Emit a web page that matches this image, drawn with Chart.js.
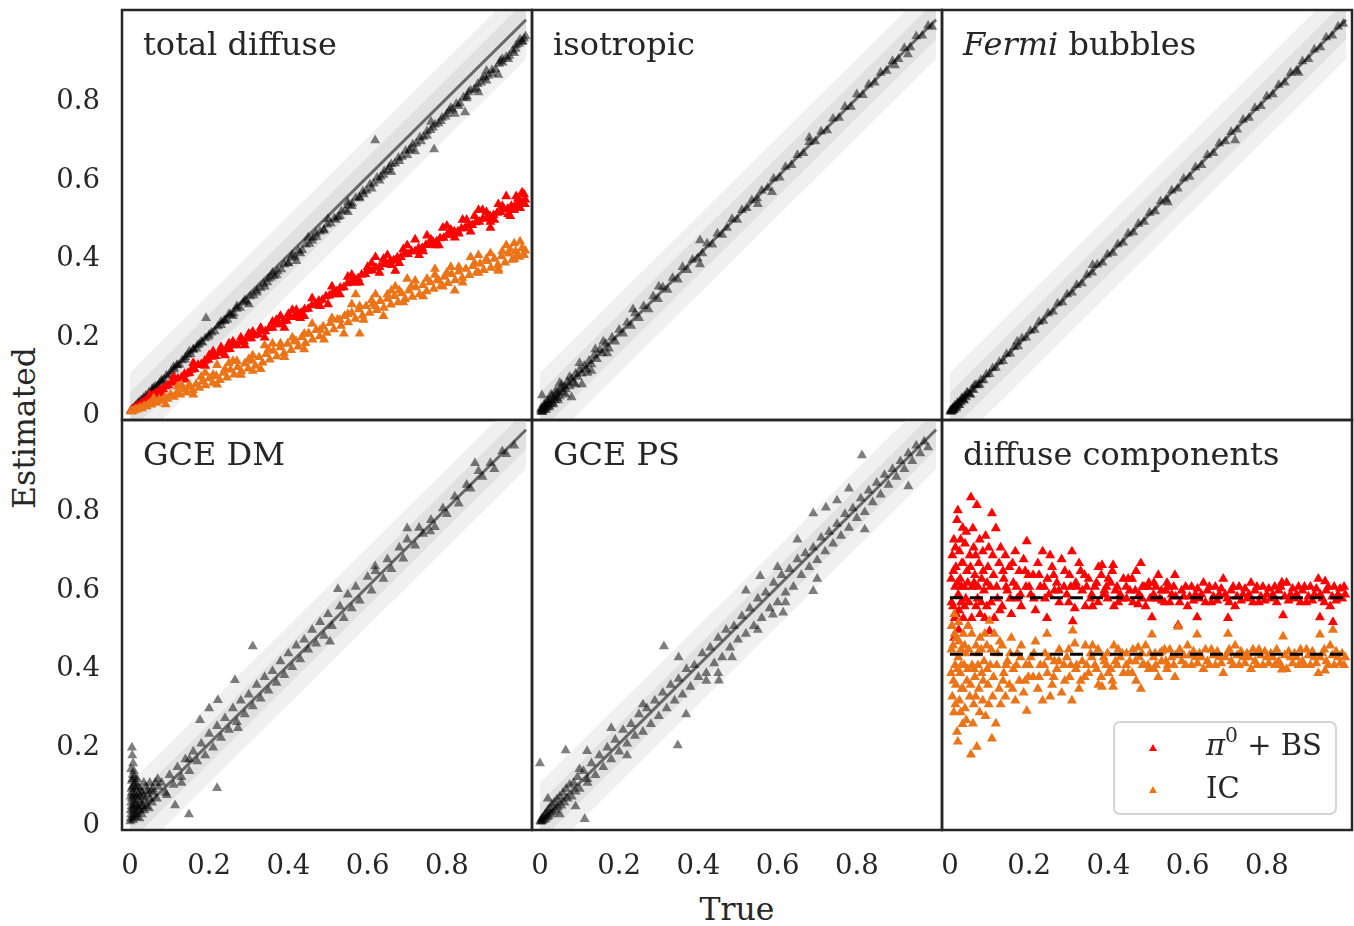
<!DOCTYPE html>
<html>
<head>
<meta charset="utf-8">
<script src="https://cdn.jsdelivr.net/npm/chart.js@4.4.0/dist/chart.umd.min.js"></script>
<style>
  body { margin: 0; background: #fff; width: 1354px; height: 926px; position: relative; overflow: hidden;
         font-family: "DejaVu Serif", serif; color: #262626; }
  canvas { position: absolute; }
  .plabel { position: absolute; font-size: 32px; line-height: 1; white-space: nowrap; }
  .axtitle { position: absolute; font-size: 31.5px; line-height: 1; white-space: nowrap; transform: translate(-50%, -50%); }
  #legend { position: absolute; left: 1113px; top: 721px; width: 220px; height: 90px; border: 2px solid #d4d4d4;
            border-radius: 7px; background: rgba(255,255,255,0.85); }
  #legend .tri { position: absolute; width: 0; height: 0; border-left: 4px solid transparent; border-right: 4px solid transparent; }
  #legend .txt { position: absolute; font-size: 29px; line-height: 1; white-space: nowrap; }
  sup { font-size: 0.7em; line-height: 0; position: relative; top: -0.1em; }
</style>
</head>
<body>

<div class="axtitle" style="left:25px;top:428px;transform:translate(-50%,-50%) rotate(-90deg)">Estimated</div>
<div class="axtitle" style="left:737px;top:910px">True</div>

<script>
// ---- axes ----
const tickVals = [0, 0.2, 0.4, 0.6, 0.8];
const xRange = [-0.02, 1.015];
const yRange = [-0.02, 1.025];
const bandOuter = 0.1;
const bandInner = 0.05;
const meanPi0 = 0.572;
const meanIC = 0.428;

const panelLabels = ["total diffuse", "isotropic", "<i>Fermi</i> bubbles", "GCE DM", "GCE PS", "diffuse components"];

// ---- total diffuse: [true, estimated] ----
const totalAll = [[0.002,0.003],[0.004,0.002],[0.005,0.006],[0.007,0.005],[0.008,0.01],[0.01,0.008],[0.012,0.013],[0.013,0.01],[0.015,0.016],[0.017,0.014],[0.019,0.021],[0.021,0.018],[0.023,0.025],[0.026,0.023],[0.028,0.03],[0.031,0.028],[0.034,0.036],[0.037,0.033],[0.04,0.042],[0.044,0.04],[0.048,0.05],[0.052,0.048],[0.056,0.059],[0.06,0.056],[0.06,0.062],[0.065,0.066],[0.07,0.067],[0.075,0.074],[0.08,0.081],[0.08,0.078],[0.086,0.083],[0.092,0.093],[0.098,0.095],[0.105,0.104],[0.11,0.115],[0.112,0.109],[0.118,0.119],[0.12,0.12],[0.125,0.121],[0.132,0.132],[0.139,0.134],[0.14,0.14],[0.146,0.146],[0.15,0.155],[0.153,0.148],[0.16,0.159],[0.16,0.16],[0.168,0.162],[0.17,0.17],[0.175,0.173],[0.18,0.18],[0.183,0.177],[0.19,0.188],[0.192,0.24],[0.198,0.192],[0.2,0.197],[0.206,0.203],[0.214,0.206],[0.222,0.219],[0.23,0.222],[0.23,0.23],[0.238,0.234],[0.24,0.232],[0.246,0.236],[0.25,0.25],[0.254,0.248],[0.26,0.245],[0.262,0.252],[0.27,0.263],[0.27,0.27],[0.278,0.266],[0.287,0.279],[0.29,0.285],[0.295,0.282],[0.3,0.275],[0.304,0.295],[0.312,0.298],[0.32,0.305],[0.321,0.31],[0.33,0.316],[0.338,0.327],[0.34,0.32],[0.347,0.331],[0.35,0.34],[0.356,0.343],[0.36,0.355],[0.364,0.347],[0.37,0.35],[0.373,0.359],[0.382,0.364],[0.39,0.376],[0.399,0.379],[0.4,0.38],[0.408,0.393],[0.41,0.4],[0.417,0.396],[0.42,0.385],[0.426,0.41],[0.43,0.405],[0.435,0.413],[0.444,0.427],[0.45,0.445],[0.453,0.429],[0.46,0.437],[0.462,0.444],[0.47,0.455],[0.471,0.447],[0.48,0.46],[0.489,0.463],[0.49,0.465],[0.498,0.478],[0.5,0.492],[0.507,0.481],[0.516,0.494],[0.52,0.49],[0.525,0.497],[0.53,0.5],[0.534,0.512],[0.543,0.515],[0.55,0.51],[0.55,0.535],[0.552,0.528],[0.56,0.525],[0.561,0.532],[0.57,0.546],[0.579,0.548],[0.58,0.545],[0.588,0.562],[0.59,0.555],[0.597,0.565],[0.606,0.58],[0.61,0.57],[0.615,0.583],[0.619,0.693],[0.624,0.597],[0.63,0.59],[0.633,0.6],[0.64,0.605],[0.642,0.614],[0.651,0.617],[0.655,0.625],[0.66,0.632],[0.66,0.612],[0.669,0.634],[0.678,0.648],[0.68,0.64],[0.687,0.651],[0.696,0.666],[0.7,0.655],[0.705,0.668],[0.71,0.672],[0.714,0.682],[0.72,0.665],[0.723,0.685],[0.732,0.7],[0.735,0.69],[0.741,0.702],[0.75,0.716],[0.75,0.705],[0.759,0.719],[0.76,0.74],[0.765,0.725],[0.768,0.67],[0.77,0.733],[0.779,0.736],[0.785,0.742],[0.788,0.75],[0.797,0.753],[0.8,0.76],[0.806,0.768],[0.81,0.775],[0.815,0.771],[0.82,0.76],[0.824,0.785],[0.83,0.78],[0.833,0.787],[0.842,0.802],[0.846,0.764],[0.85,0.8],[0.851,0.805],[0.855,0.815],[0.86,0.82],[0.869,0.822],[0.875,0.825],[0.878,0.836],[0.88,0.815],[0.887,0.84],[0.89,0.85],[0.896,0.854],[0.9,0.87],[0.9,0.845],[0.905,0.857],[0.914,0.871],[0.915,0.862],[0.923,0.874],[0.93,0.86],[0.932,0.888],[0.935,0.895],[0.94,0.9],[0.941,0.891],[0.95,0.905],[0.955,0.9],[0.958,0.908],[0.966,0.921],[0.97,0.915],[0.974,0.926],[0.975,0.935],[0.982,0.938],[0.985,0.95],[0.989,0.943],[0.992,0.945],[0.995,0.952],[0.999,0.958]];

const totalPi0 = [[0.003,0.004],[0.006,0.006],[0.01,0.008],[0.013,0.011],[0.017,0.013],[0.02,0.016],[0.025,0.019],[0.03,0.024],[0.035,0.026],[0.04,0.031],[0.046,0.033],[0.05,0.045],[0.052,0.04],[0.058,0.042],[0.064,0.048],[0.07,0.05],[0.077,0.057],[0.08,0.045],[0.084,0.058],[0.09,0.066],[0.097,0.068],[0.105,0.075],[0.11,0.09],[0.113,0.078],[0.121,0.085],[0.13,0.088],[0.138,0.097],[0.14,0.083],[0.146,0.099],[0.15,0.1],[0.155,0.108],[0.16,0.125],[0.163,0.11],[0.172,0.12],[0.18,0.122],[0.189,0.131],[0.19,0.118],[0.198,0.133],[0.2,0.145],[0.207,0.141],[0.21,0.155],[0.216,0.143],[0.225,0.151],[0.23,0.165],[0.234,0.152],[0.24,0.145],[0.243,0.16],[0.25,0.175],[0.252,0.161],[0.26,0.18],[0.261,0.17],[0.27,0.17],[0.279,0.178],[0.28,0.19],[0.288,0.18],[0.29,0.17],[0.297,0.188],[0.3,0.2],[0.306,0.188],[0.31,0.205],[0.315,0.196],[0.324,0.198],[0.33,0.215],[0.333,0.206],[0.34,0.19],[0.342,0.206],[0.351,0.214],[0.36,0.215],[0.36,0.23],[0.369,0.224],[0.37,0.235],[0.378,0.224],[0.38,0.245],[0.387,0.232],[0.39,0.215],[0.396,0.233],[0.4,0.25],[0.405,0.242],[0.41,0.26],[0.414,0.242],[0.42,0.26],[0.423,0.25],[0.43,0.24],[0.432,0.253],[0.44,0.245],[0.441,0.262],[0.45,0.263],[0.459,0.272],[0.46,0.29],[0.468,0.275],[0.47,0.275],[0.477,0.284],[0.48,0.27],[0.486,0.286],[0.495,0.295],[0.5,0.275],[0.504,0.297],[0.51,0.32],[0.513,0.306],[0.52,0.3],[0.522,0.308],[0.53,0.3],[0.531,0.317],[0.54,0.318],[0.549,0.328],[0.55,0.345],[0.558,0.33],[0.56,0.35],[0.567,0.339],[0.57,0.33],[0.576,0.341],[0.58,0.33],[0.585,0.35],[0.594,0.352],[0.6,0.37],[0.603,0.36],[0.61,0.38],[0.612,0.361],[0.62,0.395],[0.621,0.368],[0.63,0.37],[0.63,0.355],[0.639,0.377],[0.64,0.39],[0.648,0.378],[0.65,0.4],[0.657,0.385],[0.66,0.375],[0.666,0.387],[0.67,0.36],[0.675,0.394],[0.68,0.38],[0.684,0.395],[0.69,0.415],[0.693,0.402],[0.7,0.425],[0.702,0.403],[0.711,0.41],[0.72,0.41],[0.72,0.44],[0.729,0.418],[0.73,0.4],[0.738,0.418],[0.74,0.41],[0.747,0.426],[0.75,0.45],[0.756,0.427],[0.76,0.44],[0.765,0.434],[0.77,0.425],[0.774,0.435],[0.78,0.425],[0.783,0.443],[0.79,0.47],[0.792,0.444],[0.8,0.475],[0.801,0.452],[0.81,0.452],[0.81,0.465],[0.819,0.46],[0.82,0.445],[0.828,0.46],[0.83,0.455],[0.837,0.468],[0.84,0.49],[0.846,0.469],[0.85,0.49],[0.855,0.476],[0.86,0.46],[0.864,0.477],[0.87,0.5],[0.873,0.484],[0.88,0.515],[0.882,0.485],[0.89,0.515],[0.891,0.493],[0.9,0.494],[0.9,0.51],[0.909,0.5],[0.91,0.47],[0.91,0.485],[0.918,0.502],[0.92,0.49],[0.927,0.508],[0.93,0.53],[0.936,0.51],[0.94,0.525],[0.945,0.516],[0.95,0.55],[0.954,0.518],[0.955,0.505],[0.96,0.5],[0.963,0.525],[0.97,0.515],[0.972,0.526],[0.975,0.55],[0.98,0.545],[0.981,0.533],[0.985,0.52],[0.99,0.535],[0.99,0.56],[0.995,0.555],[0.997,0.53],[0.998,0.542]];

const totalIC = [[0.003,0.002],[0.007,0.004],[0.011,0.004],[0.015,0.007],[0.02,0.007],[0.025,0.011],[0.03,0.01],[0.036,0.016],[0.042,0.015],[0.048,0.021],[0.054,0.019],[0.06,0.026],[0.06,0.035],[0.067,0.024],[0.074,0.032],[0.081,0.029],[0.088,0.038],[0.09,0.02],[0.095,0.034],[0.103,0.045],[0.111,0.039],[0.119,0.05],[0.12,0.065],[0.127,0.045],[0.13,0.07],[0.135,0.058],[0.143,0.05],[0.15,0.07],[0.151,0.064],[0.159,0.056],[0.16,0.045],[0.167,0.071],[0.175,0.062],[0.18,0.09],[0.183,0.078],[0.19,0.1],[0.191,0.068],[0.2,0.086],[0.209,0.075],[0.21,0.095],[0.218,0.092],[0.22,0.12],[0.22,0.07],[0.227,0.082],[0.236,0.1],[0.24,0.11],[0.245,0.088],[0.25,0.125],[0.254,0.108],[0.26,0.13],[0.263,0.096],[0.27,0.13],[0.272,0.115],[0.28,0.095],[0.281,0.104],[0.29,0.124],[0.299,0.111],[0.3,0.135],[0.308,0.131],[0.31,0.105],[0.31,0.145],[0.317,0.118],[0.326,0.14],[0.33,0.11],[0.335,0.126],[0.34,0.17],[0.344,0.148],[0.35,0.16],[0.353,0.134],[0.36,0.175],[0.362,0.156],[0.371,0.142],[0.38,0.165],[0.38,0.175],[0.389,0.15],[0.39,0.14],[0.398,0.174],[0.407,0.158],[0.41,0.19],[0.416,0.182],[0.42,0.18],[0.425,0.167],[0.434,0.191],[0.44,0.2],[0.44,0.16],[0.443,0.176],[0.45,0.2],[0.452,0.2],[0.46,0.225],[0.461,0.185],[0.47,0.209],[0.479,0.193],[0.48,0.21],[0.488,0.218],[0.49,0.185],[0.497,0.202],[0.506,0.227],[0.51,0.24],[0.515,0.211],[0.524,0.236],[0.53,0.235],[0.533,0.22],[0.54,0.2],[0.542,0.245],[0.55,0.25],[0.551,0.229],[0.56,0.253],[0.56,0.275],[0.569,0.238],[0.57,0.3],[0.578,0.262],[0.58,0.27],[0.58,0.2],[0.587,0.246],[0.59,0.235],[0.596,0.27],[0.605,0.253],[0.61,0.285],[0.614,0.276],[0.62,0.3],[0.62,0.27],[0.623,0.26],[0.632,0.283],[0.64,0.245],[0.641,0.266],[0.65,0.289],[0.65,0.3],[0.659,0.274],[0.66,0.31],[0.668,0.296],[0.67,0.32],[0.677,0.28],[0.68,0.31],[0.686,0.303],[0.69,0.28],[0.695,0.288],[0.7,0.34],[0.704,0.31],[0.71,0.32],[0.713,0.294],[0.72,0.335],[0.722,0.318],[0.731,0.3],[0.74,0.324],[0.74,0.295],[0.749,0.308],[0.75,0.34],[0.758,0.331],[0.767,0.314],[0.77,0.35],[0.77,0.365],[0.776,0.338],[0.78,0.335],[0.785,0.322],[0.79,0.32],[0.794,0.345],[0.8,0.355],[0.803,0.329],[0.81,0.37],[0.812,0.352],[0.82,0.31],[0.821,0.336],[0.83,0.358],[0.83,0.37],[0.839,0.342],[0.84,0.33],[0.848,0.365],[0.857,0.349],[0.86,0.395],[0.866,0.372],[0.87,0.38],[0.875,0.356],[0.88,0.4],[0.88,0.355],[0.884,0.378],[0.893,0.362],[0.9,0.39],[0.902,0.385],[0.91,0.405],[0.911,0.368],[0.92,0.391],[0.929,0.375],[0.93,0.36],[0.93,0.365],[0.938,0.397],[0.94,0.41],[0.947,0.381],[0.95,0.425],[0.956,0.404],[0.96,0.415],[0.965,0.388],[0.97,0.43],[0.97,0.39],[0.974,0.41],[0.98,0.4],[0.983,0.396],[0.985,0.435],[0.99,0.418],[0.995,0.4],[0.998,0.412]];

// ---- isotropic ----
const isoPts = [[0.002,0.004],[0.003,0.01],[0.004,0.001],[0.005,0.008],[0.006,0.0],[0.007,0.003],[0.009,0.012],[0.01,0.006],[0.011,0.02],[0.012,0.015],[0.014,0.009],[0.015,0.005],[0.016,0.02],[0.018,0.012],[0.019,0.03],[0.02,0.025],[0.022,0.016],[0.024,0.012],[0.025,0.03],[0.027,0.02],[0.028,0.045],[0.03,0.04],[0.032,0.024],[0.034,0.02],[0.035,0.037],[0.038,0.03],[0.04,0.055],[0.041,0.047],[0.044,0.036],[0.046,0.03],[0.047,0.052],[0.05,0.04],[0.05,0.075],[0.054,0.06],[0.055,0.07],[0.058,0.05],[0.062,0.066],[0.065,0.045],[0.066,0.058],[0.07,0.077],[0.075,0.066],[0.075,0.09],[0.08,0.085],[0.08,0.038],[0.085,0.075],[0.09,0.098],[0.09,0.07],[0.095,0.09],[0.1,0.108],[0.1,0.125],[0.106,0.098],[0.106,0.071],[0.112,0.118],[0.118,0.11],[0.12,0.1],[0.124,0.131],[0.13,0.122],[0.13,0.105],[0.137,0.145],[0.14,0.16],[0.144,0.135],[0.151,0.158],[0.158,0.15],[0.16,0.18],[0.166,0.175],[0.17,0.15],[0.174,0.162],[0.182,0.19],[0.19,0.18],[0.2,0.21],[0.21,0.2],[0.22,0.228],[0.23,0.22],[0.235,0.262],[0.24,0.252],[0.25,0.24],[0.262,0.27],[0.274,0.262],[0.286,0.295],[0.298,0.288],[0.3,0.32],[0.31,0.318],[0.322,0.312],[0.335,0.342],[0.348,0.338],[0.36,0.37],[0.372,0.362],[0.385,0.388],[0.398,0.392],[0.404,0.438],[0.404,0.377],[0.41,0.405],[0.422,0.43],[0.435,0.427],[0.448,0.455],[0.46,0.452],[0.472,0.47],[0.485,0.492],[0.498,0.49],[0.51,0.515],[0.522,0.52],[0.535,0.54],[0.548,0.545],[0.55,0.53],[0.56,0.565],[0.575,0.572],[0.586,0.561],[0.59,0.595],[0.605,0.598],[0.62,0.625],[0.635,0.63],[0.65,0.655],[0.665,0.66],[0.68,0.688],[0.68,0.7],[0.695,0.69],[0.71,0.715],[0.725,0.718],[0.74,0.748],[0.755,0.75],[0.77,0.778],[0.785,0.778],[0.8,0.81],[0.815,0.808],[0.83,0.835],[0.845,0.84],[0.86,0.865],[0.875,0.87],[0.89,0.895],[0.896,0.884],[0.905,0.9],[0.92,0.928],[0.929,0.912],[0.935,0.93],[0.95,0.958],[0.965,0.96],[0.98,0.985],[0.99,0.982],[0.005,0.043]];

// ---- Fermi bubbles ----
const fermiPts = [[0.001,0.002],[0.002,0.005],[0.003,0.001],[0.004,0.005],[0.005,0.002],[0.006,0.004],[0.007,0.01],[0.008,0.009],[0.009,0.006],[0.01,0.005],[0.011,0.012],[0.012,0.016],[0.013,0.01],[0.015,0.016],[0.016,0.01],[0.017,0.014],[0.019,0.024],[0.02,0.022],[0.022,0.018],[0.024,0.018],[0.025,0.027],[0.028,0.025],[0.03,0.036],[0.031,0.034],[0.034,0.03],[0.036,0.03],[0.037,0.04],[0.041,0.038],[0.043,0.05],[0.045,0.048],[0.05,0.046],[0.052,0.044],[0.055,0.058],[0.06,0.056],[0.062,0.068],[0.066,0.07],[0.072,0.068],[0.075,0.07],[0.078,0.082],[0.085,0.081],[0.092,0.096],[0.1,0.097],[0.108,0.112],[0.116,0.113],[0.125,0.128],[0.134,0.13],[0.143,0.148],[0.152,0.149],[0.162,0.166],[0.17,0.18],[0.172,0.168],[0.182,0.188],[0.192,0.19],[0.203,0.207],[0.214,0.21],[0.225,0.23],[0.236,0.233],[0.248,0.252],[0.26,0.256],[0.272,0.277],[0.284,0.28],[0.296,0.3],[0.308,0.305],[0.32,0.324],[0.333,0.328],[0.346,0.35],[0.359,0.356],[0.36,0.375],[0.372,0.376],[0.385,0.381],[0.398,0.402],[0.411,0.406],[0.424,0.428],[0.437,0.432],[0.45,0.455],[0.463,0.458],[0.476,0.48],[0.49,0.485],[0.504,0.508],[0.518,0.512],[0.532,0.537],[0.546,0.542],[0.55,0.535],[0.56,0.565],[0.575,0.57],[0.59,0.595],[0.605,0.6],[0.62,0.624],[0.635,0.63],[0.65,0.655],[0.665,0.66],[0.68,0.685],[0.695,0.69],[0.71,0.714],[0.72,0.693],[0.725,0.72],[0.74,0.745],[0.755,0.75],[0.77,0.775],[0.785,0.78],[0.8,0.805],[0.815,0.81],[0.83,0.834],[0.845,0.84],[0.86,0.865],[0.875,0.87],[0.88,0.865],[0.89,0.894],[0.905,0.9],[0.92,0.924],[0.935,0.93],[0.95,0.955],[0.965,0.96],[0.98,0.983],[0.993,0.99]];

// ---- GCE DM ----
const dmPts = [[0.001,0.002],[0.002,0.01],[0.003,0.02],[0.002,0.03],[0.004,0.04],[0.003,0.05],[0.002,0.065],[0.005,0.06],[0.004,0.075],[0.004,0.085],[0.006,0.09],[0.005,0.105],[0.006,0.11],[0.007,0.12],[0.003,0.135],[0.005,0.19],[0.006,0.17],[0.008,0.15],[0.01,0.13],[0.012,0.115],[0.008,0.005],[0.008,0.035],[0.009,0.015],[0.009,0.07],[0.01,0.028],[0.011,0.042],[0.011,0.095],[0.012,0.055],[0.013,0.07],[0.013,0.02],[0.014,0.085],[0.014,0.045],[0.015,0.1],[0.016,0.012],[0.016,0.065],[0.017,0.09],[0.018,0.025],[0.018,0.11],[0.019,0.04],[0.02,0.058],[0.021,0.035],[0.022,0.072],[0.023,0.088],[0.024,0.01],[0.025,0.03],[0.026,0.065],[0.027,0.05],[0.028,0.08],[0.029,0.04],[0.03,0.02],[0.031,0.075],[0.032,0.045],[0.034,0.065],[0.035,0.1],[0.036,0.03],[0.038,0.055],[0.04,0.09],[0.042,0.04],[0.044,0.08],[0.045,0.07],[0.048,0.035],[0.05,0.06],[0.05,0.1],[0.053,0.08],[0.056,0.05],[0.058,0.085],[0.06,0.075],[0.064,0.1],[0.068,0.06],[0.07,0.11],[0.072,0.09],[0.08,0.1],[0.09,0.075],[0.093,0.069],[0.1,0.12],[0.11,0.095],[0.114,0.043],[0.12,0.14],[0.13,0.115],[0.13,0.1],[0.14,0.16],[0.149,0.02],[0.15,0.13],[0.15,0.16],[0.16,0.18],[0.17,0.155],[0.177,0.26],[0.18,0.2],[0.19,0.17],[0.2,0.225],[0.2,0.29],[0.21,0.19],[0.22,0.245],[0.22,0.087],[0.222,0.311],[0.23,0.215],[0.24,0.265],[0.25,0.235],[0.26,0.29],[0.265,0.362],[0.27,0.255],[0.273,0.24],[0.28,0.31],[0.29,0.275],[0.3,0.325],[0.31,0.448],[0.31,0.295],[0.32,0.35],[0.33,0.315],[0.34,0.37],[0.35,0.335],[0.36,0.385],[0.37,0.355],[0.38,0.41],[0.39,0.375],[0.4,0.43],[0.41,0.395],[0.42,0.45],[0.43,0.415],[0.44,0.465],[0.45,0.44],[0.46,0.49],[0.47,0.455],[0.48,0.51],[0.49,0.475],[0.5,0.53],[0.505,0.46],[0.51,0.5],[0.525,0.594],[0.53,0.55],[0.54,0.52],[0.55,0.58],[0.56,0.545],[0.57,0.6],[0.58,0.565],[0.6,0.625],[0.61,0.59],[0.619,0.652],[0.62,0.64],[0.64,0.62],[0.65,0.67],[0.66,0.645],[0.68,0.7],[0.69,0.672],[0.7,0.749],[0.7,0.72],[0.72,0.705],[0.73,0.75],[0.74,0.735],[0.758,0.741],[0.76,0.77],[0.77,0.752],[0.79,0.8],[0.8,0.785],[0.82,0.83],[0.83,0.812],[0.85,0.86],[0.86,0.85],[0.871,0.915],[0.88,0.895],[0.89,0.88],[0.91,0.915],[0.92,0.9],[0.94,0.945],[0.95,0.938],[0.97,0.96]];

// ---- GCE PS ----
const psPts = [[0.001,0.003],[0.003,0.001],[0.004,0.008],[0.006,0.003],[0.008,0.012],[0.01,0.005],[0.012,0.018],[0.014,0.008],[0.016,0.024],[0.018,0.012],[0.02,0.03],[0.02,0.06],[0.022,0.015],[0.025,0.035],[0.028,0.02],[0.03,0.045],[0.033,0.025],[0.036,0.05],[0.04,0.03],[0.043,0.058],[0.046,0.038],[0.05,0.065],[0.05,0.02],[0.054,0.042],[0.058,0.075],[0.062,0.05],[0.065,0.183],[0.066,0.085],[0.07,0.06],[0.075,0.095],[0.08,0.065],[0.085,0.1],[0.09,0.078],[0.09,0.04],[0.095,0.115],[0.1,0.085],[0.1,0.135],[0.0,0.15],[0.113,0.008],[0.11,0.13],[0.119,0.181],[0.12,0.11],[0.12,0.1],[0.13,0.15],[0.14,0.12],[0.15,0.17],[0.16,0.14],[0.17,0.19],[0.18,0.16],[0.18,0.24],[0.19,0.21],[0.2,0.18],[0.21,0.235],[0.22,0.2],[0.22,0.17],[0.23,0.25],[0.24,0.22],[0.25,0.275],[0.26,0.23],[0.26,0.3],[0.27,0.29],[0.28,0.25],[0.29,0.31],[0.3,0.27],[0.313,0.448],[0.31,0.33],[0.32,0.29],[0.33,0.35],[0.34,0.31],[0.348,0.196],[0.35,0.365],[0.35,0.42],[0.36,0.325],[0.369,0.275],[0.37,0.39],[0.38,0.345],[0.39,0.4],[0.4,0.37],[0.41,0.43],[0.42,0.38],[0.42,0.36],[0.43,0.445],[0.44,0.405],[0.45,0.47],[0.45,0.38],[0.452,0.361],[0.46,0.42],[0.47,0.49],[0.48,0.445],[0.485,0.42],[0.49,0.5],[0.5,0.465],[0.51,0.525],[0.52,0.48],[0.52,0.59],[0.53,0.545],[0.54,0.5],[0.55,0.57],[0.55,0.49],[0.556,0.627],[0.56,0.52],[0.57,0.585],[0.58,0.545],[0.588,0.529],[0.59,0.61],[0.6,0.56],[0.6,0.65],[0.61,0.63],[0.614,0.534],[0.62,0.585],[0.62,0.56],[0.63,0.645],[0.64,0.6],[0.65,0.67],[0.65,0.72],[0.66,0.63],[0.67,0.685],[0.68,0.65],[0.69,0.7],[0.69,0.589],[0.69,0.787],[0.7,0.668],[0.7,0.62],[0.71,0.725],[0.72,0.69],[0.722,0.802],[0.73,0.74],[0.74,0.71],[0.75,0.76],[0.75,0.82],[0.76,0.73],[0.77,0.785],[0.78,0.75],[0.78,0.85],[0.79,0.8],[0.8,0.775],[0.81,0.825],[0.813,0.935],[0.82,0.79],[0.82,0.746],[0.83,0.845],[0.84,0.815],[0.85,0.865],[0.86,0.835],[0.87,0.885],[0.88,0.86],[0.89,0.9],[0.9,0.88],[0.91,0.92],[0.92,0.9],[0.93,0.94],[0.93,0.856],[0.94,0.92],[0.95,0.96],[0.96,0.94],[0.97,0.97],[0.98,0.955]];

// ---- diffuse components: [true total diffuse, fraction] ----
const compPi0 = [[0.003,0.62],[0.004,0.56],[0.005,0.5],[0.006,0.68],[0.008,0.55],[0.009,0.64],[0.01,0.72],[0.011,0.47],[0.012,0.52],[0.013,0.6],[0.014,0.7],[0.015,0.65],[0.016,0.53],[0.018,0.77],[0.019,0.61],[0.02,0.795],[0.021,0.58],[0.022,0.49],[0.023,0.54],[0.024,0.69],[0.026,0.62],[0.027,0.72],[0.028,0.56],[0.029,0.6],[0.03,0.66],[0.032,0.75],[0.033,0.66],[0.034,0.52],[0.036,0.6],[0.037,0.55],[0.038,0.71],[0.04,0.57],[0.041,0.74],[0.043,0.64],[0.045,0.61],[0.046,0.5],[0.048,0.56],[0.05,0.68],[0.052,0.65],[0.053,0.828],[0.055,0.52],[0.056,0.6],[0.058,0.749],[0.06,0.7],[0.061,0.61],[0.063,0.63],[0.065,0.68],[0.066,0.55],[0.068,0.808],[0.07,0.57],[0.071,0.6],[0.073,0.66],[0.075,0.72],[0.076,0.53],[0.079,0.56],[0.08,0.62],[0.083,0.69],[0.084,0.64],[0.086,0.59],[0.088,0.52],[0.09,0.73],[0.093,0.55],[0.094,0.61],[0.096,0.65],[0.098,0.7],[0.1,0.487],[0.102,0.6],[0.104,0.56],[0.106,0.787],[0.108,0.68],[0.11,0.63],[0.112,0.52],[0.116,0.749],[0.118,0.6],[0.12,0.57],[0.124,0.66],[0.126,0.54],[0.128,0.7],[0.132,0.55],[0.134,0.64],[0.136,0.62],[0.14,0.68],[0.142,0.6],[0.145,0.59],[0.15,0.65],[0.152,0.57],[0.155,0.53],[0.158,0.66],[0.16,0.61],[0.165,0.69],[0.168,0.6],[0.17,0.57],[0.175,0.64],[0.178,0.58],[0.18,0.55],[0.186,0.67],[0.19,0.64],[0.192,0.6],[0.194,0.716],[0.198,0.63],[0.2,0.6],[0.204,0.58],[0.21,0.63],[0.212,0.57],[0.216,0.54],[0.222,0.66],[0.225,0.63],[0.228,0.6],[0.234,0.69],[0.238,0.6],[0.24,0.57],[0.245,0.52],[0.246,0.62],[0.25,0.58],[0.253,0.68],[0.258,0.65],[0.262,0.63],[0.264,0.59],[0.27,0.61],[0.275,0.59],[0.276,0.56],[0.282,0.67],[0.288,0.6],[0.29,0.64],[0.295,0.58],[0.3,0.56],[0.302,0.63],[0.305,0.6],[0.308,0.69],[0.31,0.512],[0.315,0.545],[0.318,0.61],[0.32,0.6],[0.326,0.66],[0.33,0.64],[0.334,0.59],[0.34,0.63],[0.342,0.55],[0.345,0.6],[0.35,0.62],[0.355,0.57],[0.358,0.58],[0.36,0.55],[0.366,0.6],[0.37,0.61],[0.374,0.56],[0.375,0.65],[0.382,0.63],[0.384,0.655],[0.388,0.58],[0.39,0.59],[0.395,0.6],[0.398,0.57],[0.4,0.62],[0.406,0.61],[0.41,0.64],[0.412,0.655],[0.414,0.55],[0.418,0.59],[0.422,0.6],[0.425,0.56],[0.43,0.58],[0.435,0.57],[0.438,0.62],[0.445,0.6],[0.446,0.57],[0.45,0.62],[0.454,0.59],[0.46,0.62],[0.462,0.56],[0.468,0.59],[0.47,0.64],[0.475,0.555],[0.478,0.58],[0.482,0.66],[0.485,0.57],[0.486,0.6],[0.49,0.6],[0.494,0.55],[0.5,0.6],[0.502,0.61],[0.505,0.57],[0.51,0.522],[0.514,0.58],[0.515,0.61],[0.518,0.57],[0.52,0.6],[0.526,0.63],[0.53,0.57],[0.534,0.59],[0.535,0.565],[0.542,0.56],[0.545,0.59],[0.548,0.61],[0.55,0.6],[0.555,0.56],[0.56,0.58],[0.565,0.6],[0.568,0.63],[0.57,0.575],[0.576,0.502],[0.58,0.56],[0.585,0.59],[0.59,0.575],[0.595,0.6],[0.6,0.55],[0.605,0.575],[0.61,0.6],[0.615,0.565],[0.62,0.58],[0.624,0.522],[0.625,0.595],[0.63,0.57],[0.635,0.58],[0.64,0.61],[0.645,0.56],[0.65,0.59],[0.655,0.6],[0.66,0.56],[0.665,0.575],[0.67,0.6],[0.675,0.565],[0.68,0.58],[0.685,0.595],[0.69,0.62],[0.695,0.58],[0.7,0.57],[0.702,0.52],[0.705,0.56],[0.71,0.59],[0.715,0.6],[0.72,0.55],[0.725,0.575],[0.73,0.6],[0.735,0.565],[0.74,0.58],[0.745,0.595],[0.75,0.57],[0.755,0.58],[0.76,0.61],[0.765,0.56],[0.77,0.59],[0.775,0.6],[0.78,0.56],[0.785,0.575],[0.79,0.6],[0.795,0.565],[0.8,0.58],[0.805,0.595],[0.81,0.57],[0.815,0.58],[0.82,0.6],[0.825,0.56],[0.83,0.59],[0.835,0.6],[0.838,0.611],[0.841,0.527],[0.845,0.575],[0.85,0.61],[0.855,0.565],[0.86,0.58],[0.865,0.595],[0.87,0.57],[0.875,0.58],[0.88,0.6],[0.885,0.56],[0.89,0.59],[0.895,0.6],[0.9,0.56],[0.905,0.575],[0.91,0.6],[0.915,0.565],[0.92,0.58],[0.925,0.595],[0.93,0.62],[0.934,0.522],[0.935,0.58],[0.94,0.57],[0.945,0.56],[0.947,0.614],[0.95,0.59],[0.955,0.6],[0.96,0.55],[0.965,0.575],[0.967,0.51],[0.97,0.6],[0.975,0.565],[0.98,0.58],[0.985,0.595],[0.99,0.57],[0.995,0.6],[0.998,0.58]];

const compIC = [[0.003,0.38],[0.004,0.44],[0.005,0.5],[0.006,0.32],[0.008,0.45],[0.009,0.36],[0.01,0.28],[0.011,0.53],[0.012,0.48],[0.013,0.4],[0.014,0.3],[0.015,0.35],[0.016,0.47],[0.018,0.23],[0.019,0.39],[0.02,0.205],[0.021,0.42],[0.022,0.51],[0.023,0.46],[0.024,0.31],[0.026,0.38],[0.027,0.28],[0.028,0.44],[0.029,0.4],[0.03,0.34],[0.032,0.25],[0.033,0.34],[0.034,0.48],[0.036,0.4],[0.037,0.45],[0.038,0.29],[0.04,0.43],[0.041,0.26],[0.043,0.36],[0.045,0.39],[0.046,0.5],[0.048,0.44],[0.05,0.32],[0.052,0.35],[0.053,0.172],[0.055,0.48],[0.056,0.4],[0.058,0.251],[0.06,0.3],[0.061,0.39],[0.063,0.37],[0.065,0.32],[0.066,0.45],[0.068,0.192],[0.07,0.43],[0.071,0.4],[0.073,0.34],[0.075,0.28],[0.076,0.47],[0.079,0.44],[0.08,0.38],[0.083,0.31],[0.084,0.36],[0.086,0.41],[0.088,0.48],[0.09,0.27],[0.093,0.45],[0.094,0.39],[0.096,0.35],[0.098,0.3],[0.1,0.513],[0.102,0.4],[0.104,0.44],[0.106,0.213],[0.108,0.32],[0.11,0.37],[0.112,0.48],[0.116,0.251],[0.118,0.4],[0.12,0.43],[0.124,0.34],[0.126,0.46],[0.128,0.3],[0.132,0.45],[0.134,0.36],[0.136,0.38],[0.14,0.32],[0.142,0.4],[0.145,0.41],[0.15,0.35],[0.152,0.43],[0.155,0.47],[0.158,0.34],[0.16,0.39],[0.165,0.31],[0.168,0.4],[0.17,0.43],[0.175,0.36],[0.178,0.42],[0.18,0.45],[0.186,0.33],[0.19,0.36],[0.192,0.4],[0.194,0.284],[0.198,0.37],[0.2,0.4],[0.204,0.42],[0.21,0.37],[0.212,0.43],[0.216,0.46],[0.222,0.34],[0.225,0.37],[0.228,0.4],[0.234,0.31],[0.238,0.4],[0.24,0.43],[0.245,0.48],[0.246,0.38],[0.25,0.42],[0.253,0.32],[0.258,0.35],[0.262,0.37],[0.264,0.41],[0.27,0.39],[0.275,0.41],[0.276,0.44],[0.282,0.33],[0.288,0.4],[0.29,0.36],[0.295,0.42],[0.3,0.44],[0.302,0.37],[0.305,0.4],[0.308,0.31],[0.31,0.488],[0.315,0.455],[0.318,0.39],[0.32,0.4],[0.326,0.34],[0.33,0.36],[0.334,0.41],[0.34,0.37],[0.342,0.45],[0.345,0.4],[0.35,0.38],[0.355,0.43],[0.358,0.42],[0.36,0.45],[0.366,0.4],[0.37,0.39],[0.374,0.44],[0.375,0.35],[0.382,0.37],[0.384,0.345],[0.388,0.42],[0.39,0.41],[0.395,0.4],[0.398,0.43],[0.4,0.38],[0.406,0.39],[0.41,0.36],[0.412,0.345],[0.414,0.45],[0.418,0.41],[0.422,0.4],[0.425,0.44],[0.43,0.42],[0.435,0.43],[0.438,0.38],[0.445,0.4],[0.446,0.43],[0.45,0.38],[0.454,0.41],[0.46,0.38],[0.462,0.44],[0.468,0.41],[0.47,0.36],[0.475,0.445],[0.478,0.42],[0.482,0.34],[0.485,0.43],[0.486,0.4],[0.49,0.4],[0.494,0.45],[0.5,0.4],[0.502,0.39],[0.505,0.43],[0.51,0.478],[0.514,0.42],[0.515,0.39],[0.518,0.43],[0.52,0.4],[0.526,0.37],[0.53,0.43],[0.534,0.41],[0.535,0.435],[0.542,0.44],[0.545,0.41],[0.548,0.39],[0.55,0.4],[0.555,0.44],[0.56,0.42],[0.565,0.4],[0.568,0.37],[0.57,0.425],[0.576,0.498],[0.58,0.44],[0.585,0.41],[0.59,0.425],[0.595,0.4],[0.6,0.45],[0.605,0.425],[0.61,0.4],[0.615,0.435],[0.62,0.42],[0.624,0.478],[0.625,0.405],[0.63,0.43],[0.635,0.42],[0.64,0.39],[0.645,0.44],[0.65,0.41],[0.655,0.4],[0.66,0.44],[0.665,0.425],[0.67,0.4],[0.675,0.435],[0.68,0.42],[0.685,0.405],[0.69,0.38],[0.695,0.42],[0.7,0.43],[0.702,0.48],[0.705,0.44],[0.71,0.41],[0.715,0.4],[0.72,0.45],[0.725,0.425],[0.73,0.4],[0.735,0.435],[0.74,0.42],[0.745,0.405],[0.75,0.43],[0.755,0.42],[0.76,0.39],[0.765,0.44],[0.77,0.41],[0.775,0.4],[0.78,0.44],[0.785,0.425],[0.79,0.4],[0.795,0.435],[0.8,0.42],[0.805,0.405],[0.81,0.43],[0.815,0.42],[0.82,0.4],[0.825,0.44],[0.83,0.41],[0.835,0.4],[0.838,0.389],[0.841,0.473],[0.845,0.425],[0.85,0.39],[0.855,0.435],[0.86,0.42],[0.865,0.405],[0.87,0.43],[0.875,0.42],[0.88,0.4],[0.885,0.44],[0.89,0.41],[0.895,0.4],[0.9,0.44],[0.905,0.425],[0.91,0.4],[0.915,0.435],[0.92,0.42],[0.925,0.405],[0.93,0.38],[0.934,0.478],[0.935,0.42],[0.94,0.43],[0.945,0.44],[0.947,0.386],[0.95,0.41],[0.955,0.4],[0.96,0.45],[0.965,0.425],[0.967,0.49],[0.97,0.4],[0.975,0.435],[0.98,0.42],[0.985,0.405],[0.99,0.43],[0.995,0.4],[0.998,0.42]];

// ---- styles ----
const BLACK = "rgba(0,0,0,0.5)";
const RED = "#ff0000";
const ORANGE = "#eb7419";
const FONT = "DejaVu Serif";

const panels = [
  { sets: [[totalAll, BLACK], [totalPi0, RED], [totalIC, ORANGE]], diagonal: true },
  { sets: [[isoPts, BLACK]], diagonal: true },
  { sets: [[fermiPts, BLACK]], diagonal: true },
  { sets: [[dmPts, BLACK]], diagonal: true },
  { sets: [[psPts, BLACK]], diagonal: true },
  { sets: [[compPi0, RED], [compIC, ORANGE]], means: [meanPi0, meanIC] }
];

const pts = arr => arr.map(([x, y]) => ({ x, y }));

// panel frame
const framePlugin = {
  id: "frame",
  afterDatasetsDraw(chart) {
    const { ctx, chartArea: a } = chart;
    ctx.save();
    ctx.strokeStyle = "#262626";
    ctx.lineWidth = 2.5;
    ctx.strokeRect(a.left, a.top, a.right - a.left, a.bottom - a.top);
    ctx.restore();
  }
};

function edgeLine(offset, fill, color, order) {
  return {
    type: "line",
    data: [{ x: 0, y: offset }, { x: 1, y: 1 + offset }],
    borderColor: "rgba(0,0,0,0)",
    borderWidth: 0,
    pointRadius: 0,
    backgroundColor: color || "rgba(0,0,0,0)",
    fill: fill,
    order: order
  };
}

panels.forEach((p, i) => {
  const col = i % 3;
  const row = Math.floor(i / 3);

  const canvas = document.createElement("canvas");
  canvas.width = 540;
  canvas.height = 480;
  canvas.style.left = (2 + 410 * col) + "px";
  canvas.style.top = (410 * row) + "px";
  document.body.appendChild(canvas);

  const label = document.createElement("div");
  label.className = "plabel";
  label.innerHTML = panelLabels[i];
  label.style.left = (143 + 410 * col) + "px";
  label.style.top = (28 + 410 * row) + "px";
  document.body.appendChild(label);

  const datasets = [];
  if (p.diagonal) {
    datasets.push(edgeLine(bandOuter, "+1", "#f0f0f0", 20));
    datasets.push(edgeLine(-bandOuter, false, null, 20));
    datasets.push(edgeLine(bandInner, "+1", "#e1e1e1", 19));
    datasets.push(edgeLine(-bandInner, false, null, 19));
    datasets.push({
      type: "line",
      data: [{ x: 0, y: 0 }, { x: 1, y: 1 }],
      borderColor: "rgba(90,90,90,0.9)",
      borderWidth: 3,
      pointRadius: 0,
      fill: false,
      order: 18
    });
  }
  p.sets.forEach(([arr, color], k) => {
    datasets.push({
      type: "scatter",
      data: pts(arr),
      pointStyle: "triangle",
      pointRadius: 5.8,
      pointBorderWidth: 0,
      backgroundColor: color,
      borderColor: color,
      order: 10 - k
    });
  });
  if (p.means) {
    p.means.forEach(m => {
      datasets.push({
        type: "line",
        data: [{ x: 0, y: m }, { x: 1, y: m }],
        borderColor: "#000",
        borderWidth: 3,
        borderDash: [13, 7],
        pointRadius: 0,
        fill: false,
        order: 0
      });
    });
  }

  const tickFont = { family: FONT, size: 27.5 };
  new Chart(canvas, {
    type: "scatter",
    data: { datasets },
    options: {
      responsive: false,
      animation: false,
      events: [],
      layout: { padding: { top: 10, right: 10, left: 0, bottom: 0 }, autoPadding: false },
      plugins: { legend: { display: false }, tooltip: { enabled: false } },
      scales: {
        x: {
          type: "linear",
          min: xRange[0],
          max: xRange[1],
          grid: { display: false, drawTicks: false },
          border: { display: false },
          afterBuildTicks: s => { s.ticks = tickVals.map(v => ({ value: v })); },
          afterFit: s => { s.height = 60; s.paddingLeft = 0; s.paddingRight = 0; },
          ticks: {
            display: row === 1,
            font: tickFont,
            color: "#262626",
            padding: 20,
            maxRotation: 0,
            autoSkip: false,
            callback: v => (v === 0 ? "0" : v.toFixed(1))
          }
        },
        y: {
          type: "linear",
          min: yRange[0],
          max: yRange[1],
          grid: { display: false, drawTicks: false },
          border: { display: false },
          afterBuildTicks: s => { s.ticks = tickVals.map(v => ({ value: v })); },
          afterFit: s => { s.width = 120; s.paddingTop = 0; s.paddingBottom = 0; },
          ticks: {
            display: col === 0,
            font: tickFont,
            color: "#262626",
            padding: 22,
            labelOffset: 4,
            autoSkip: false,
            callback: v => (v === 0 ? "0" : v.toFixed(1))
          }
        }
      }
    },
    plugins: [framePlugin]
  });
});
</script>

<div id="legend">
  <div class="tri" style="left:34px;top:21px;border-bottom:7px solid #ff0000"></div>
  <div class="txt" style="left:91px;top:8px"><i>π</i><sup>0</sup> + BS</div>
  <div class="tri" style="left:34px;top:63px;border-bottom:7px solid #eb7419"></div>
  <div class="txt" style="left:91px;top:51px">IC</div>
</div>

</body>
</html>
